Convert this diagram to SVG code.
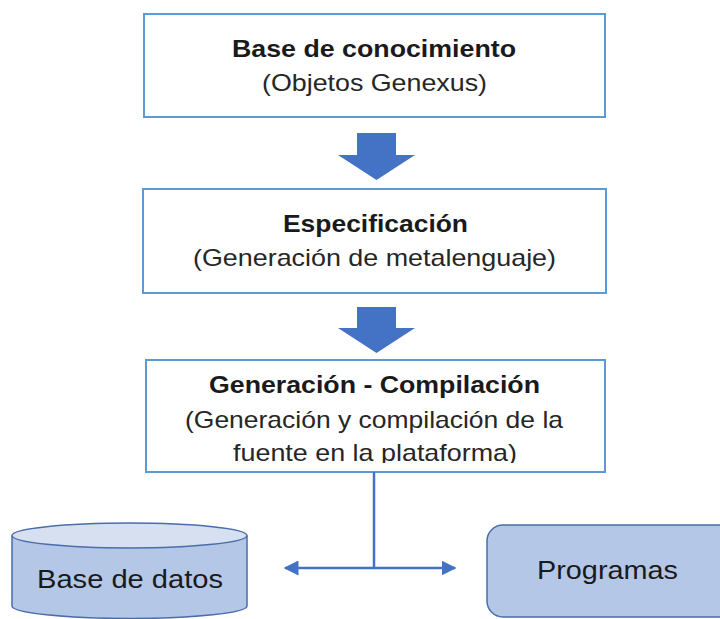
<svg xmlns="http://www.w3.org/2000/svg" width="720" height="619" viewBox="0 0 720 619">
<style>
.box{fill:#ffffff;stroke:#5b9bd5;stroke-width:2}
.blk{fill:#4472c4}
.t{font-family:"Liberation Sans",Arial,sans-serif;fill:#1a1a1a;text-anchor:middle}
.b{font-weight:bold;font-size:24px}
.r{font-size:24px;fill:#262626}
.con{stroke:#4472c4;stroke-width:2.5;fill:none}
.shape{fill:#b4c7e7;stroke:#4a6ea9;stroke-width:1.5}
</style>
<defs>
<marker id="ah" viewBox="0 0 10 10" refX="9" refY="5" markerWidth="6" markerHeight="6" markerUnits="strokeWidth" orient="auto-start-reverse">
<path d="M0,0 L10,5 L0,10 z" fill="#4472c4"/>
</marker>
<clipPath id="c3"><rect x="146" y="360" width="459" height="103"/></clipPath>
</defs>
<g id="node-base-conocimiento">
<rect class="box" x="144" y="14" width="461" height="103"/>
<text class="t b" x="374" y="57" textLength="284" lengthAdjust="spacingAndGlyphs">Base de conocimiento</text>
<text class="t r" x="374.5" y="91" textLength="225" lengthAdjust="spacingAndGlyphs">(Objetos Genexus)</text>
</g>
<g id="node-especificacion">
<rect class="box" x="143" y="189" width="463" height="104"/>
<text class="t b" x="375.5" y="232" textLength="185" lengthAdjust="spacingAndGlyphs">Especificación</text>
<text class="t r" x="374.5" y="266" textLength="363" lengthAdjust="spacingAndGlyphs">(Generación de metalenguaje)</text>
</g>
<g id="node-generacion">
<rect class="box" x="146" y="360" width="459" height="112"/>
<g clip-path="url(#c3)">
<text class="t b" x="374.5" y="393" textLength="331" lengthAdjust="spacingAndGlyphs">Generación - Compilación</text>
<text class="t r" x="374" y="428" textLength="378" lengthAdjust="spacingAndGlyphs">(Generación y compilación de la</text>
<text class="t r" x="375" y="461" textLength="284" lengthAdjust="spacingAndGlyphs">fuente en la plataforma)</text>
</g>
</g>
<g id="node-base-datos">
<path class="shape" d="M12,535.5 L12,606 A117.5,12.5 0 0 0 247,606 L247,535.5"/>
<ellipse cx="129.5" cy="535.5" rx="117.5" ry="12.5" fill="#d6e0f1" stroke="#4a6ea9" stroke-width="1.5"/>
<text class="t" x="130" y="588" font-size="25" fill="#1a1a1a" textLength="186" lengthAdjust="spacingAndGlyphs">Base de datos</text>
</g>
<g id="node-programas">
<rect class="shape" x="487" y="525" width="250" height="92" rx="16" ry="16"/>
<text class="t" x="607.5" y="579" font-size="26" fill="#1a1a1a" textLength="141" lengthAdjust="spacingAndGlyphs">Programas</text>
</g>
<g id="connectors">
<path class="blk" d="M357,133 L396,133 L396,155 L415,155 L376.5,180 L338,155 L357,155 Z"/>
<path class="blk" d="M357,307 L396,307 L396,328 L415,328 L376.5,353 L338,328 L357,328 Z"/>
<line class="con" x1="374" y1="472" x2="374" y2="568"/>
<line class="con" x1="285" y1="568" x2="455" y2="568" marker-start="url(#ah)" marker-end="url(#ah)"/>
</g>
</svg>
